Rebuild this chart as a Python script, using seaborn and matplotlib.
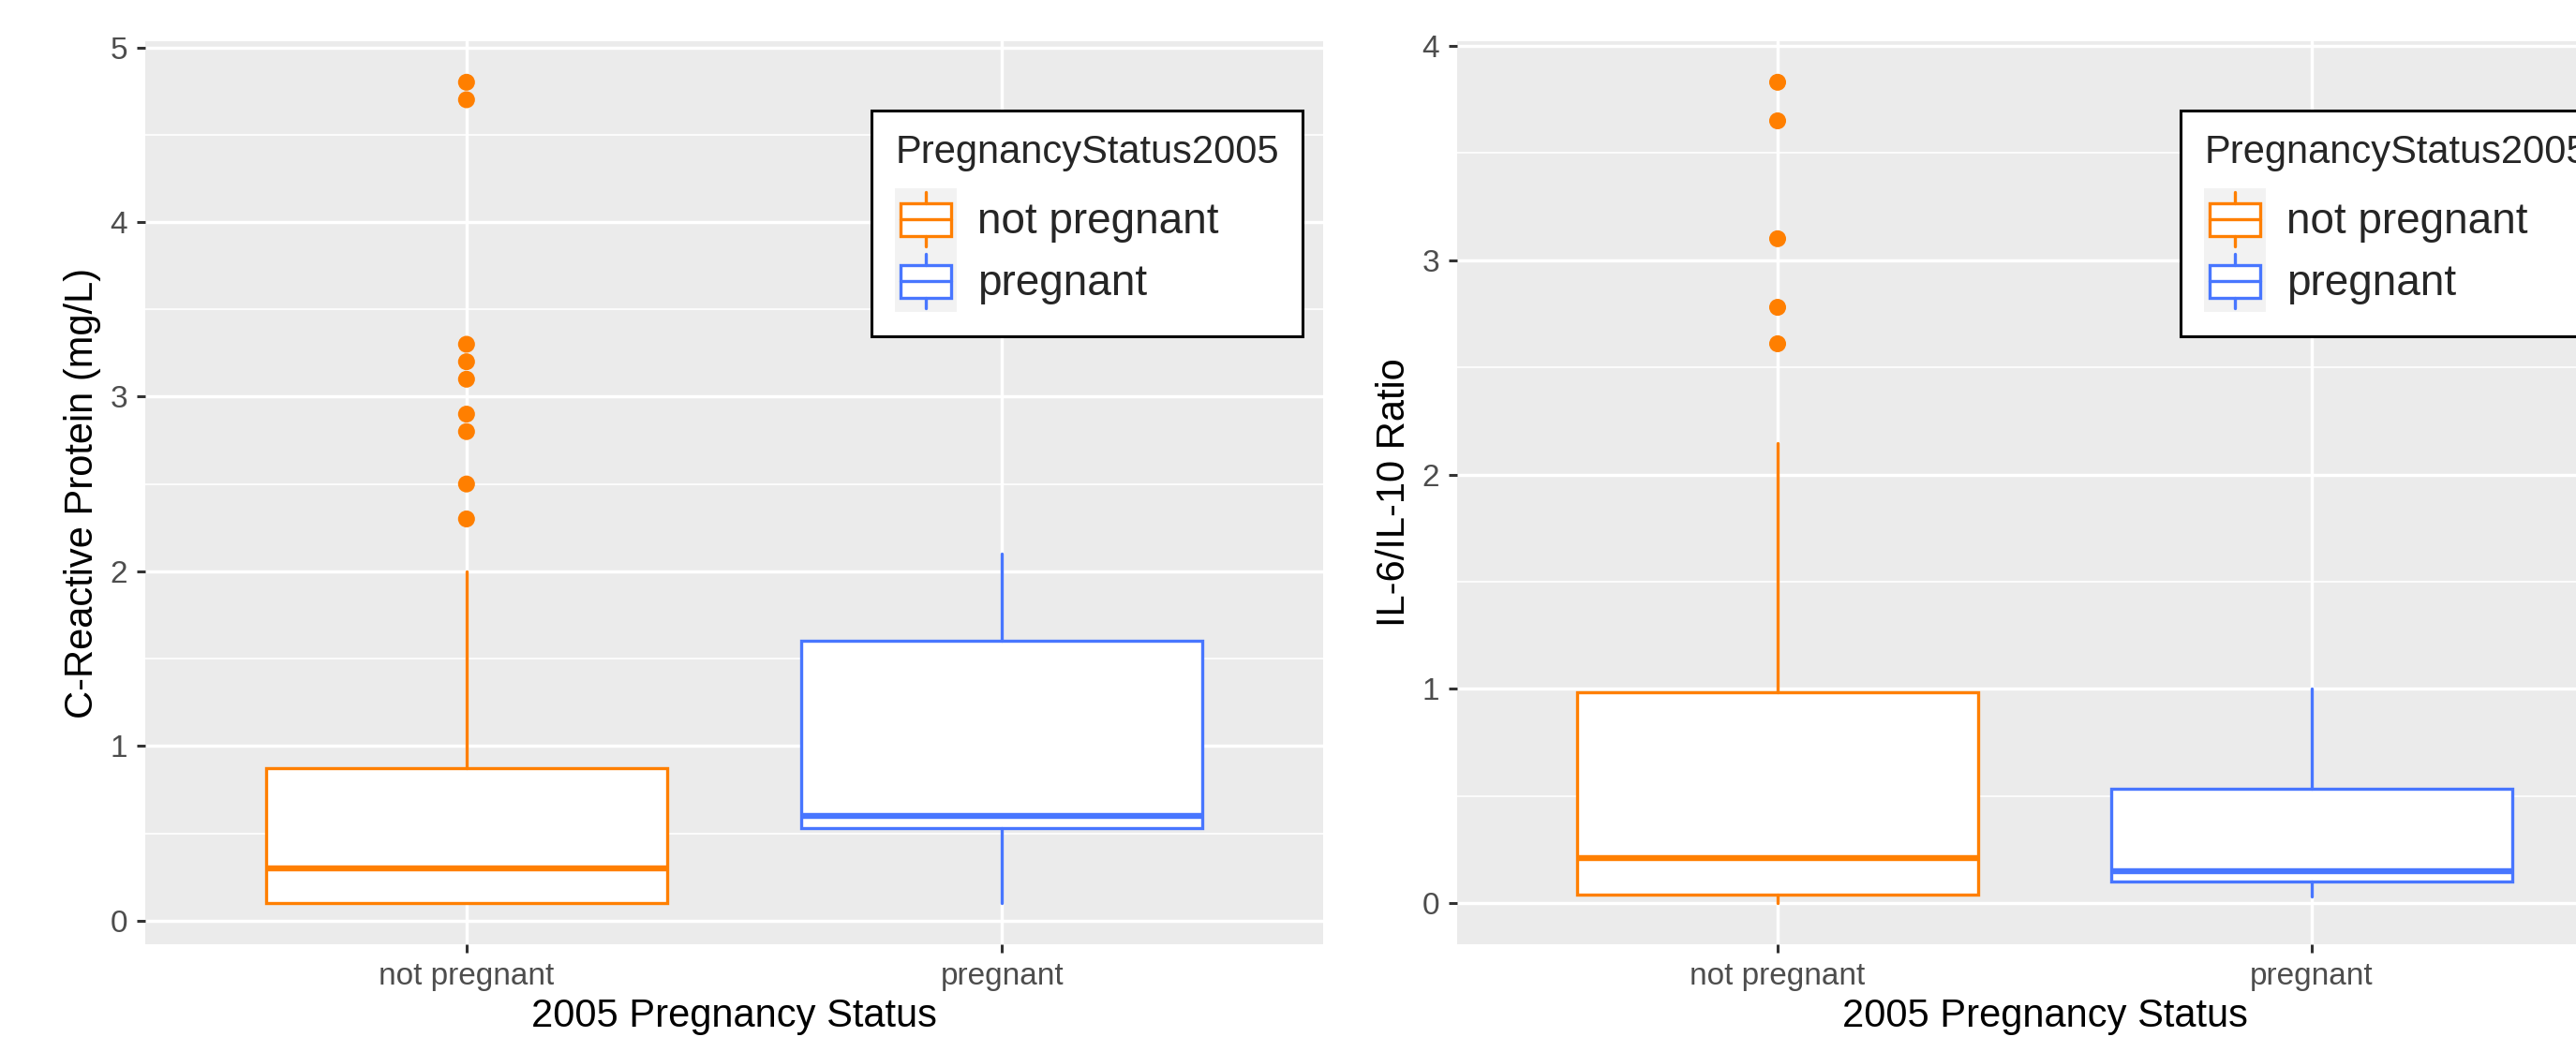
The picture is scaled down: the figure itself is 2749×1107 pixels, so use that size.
import numpy as np
import pandas as pd
import matplotlib
matplotlib.use("Agg")
import matplotlib.pyplot as plt
import seaborn as sns
from matplotlib.patches import Rectangle, Patch
from matplotlib.lines import Line2D
from matplotlib.legend_handler import HandlerBase
from matplotlib.ticker import MultipleLocator

# ---------------- data ----------------
groups = ["not pregnant", "pregnant"]
colors = ["#FF7F00", "#4876FF"]

# C-reactive protein
crp_whislo = [0.1, 0.1]
crp_q1 = [0.1, 0.53]
crp_med = [0.3, 0.6]
crp_q3 = [0.875, 1.6]
crp_whishi = [2.0, 2.1]
crp_outliers = [4.8, 4.7, 3.3, 3.2, 3.1, 2.9, 2.8, 2.5, 2.3]   # not pregnant only

# IL-6 / IL-10 ratio
il_whislo = [0.0, 0.03]
il_q1 = [0.04, 0.103]
il_med = [0.21, 0.15]
il_q3 = [0.985, 0.536]
il_whishi = [2.145, 1.0]
il_outliers = [3.83, 3.65, 3.10, 2.78, 2.61]   # not pregnant only

y_ticks_crp = [0, 1, 2, 3, 4, 5]
y_ticks_il = [0, 1, 2, 3, 4]

sns.set_theme(style="darkgrid", rc={"axes.facecolor": "#EBEBEB", "grid.color": "white"})
plt.rcParams['font.family'] = ['Liberation Sans', 'DejaVu Sans']

LW = 2.4


class BoxKey(HandlerBase):
    # ggplot-like boxplot legend key
    def create_artists(self, legend, orig_handle, xd, yd, w, h, fontsize, trans):
        c = orig_handle.get_edgecolor()
        x0, y0 = -xd, -yd
        arts = [Rectangle((x0, y0), w, h, facecolor="#F2F2F2", edgecolor="none", transform=trans)]
        arts.append(Rectangle((x0 + 0.09 * w, y0 + 0.24 * h), 0.82 * w, 0.52 * h,
                              facecolor="white", edgecolor=c, lw=LW, transform=trans))
        arts.append(Line2D([x0 + 0.09 * w, x0 + 0.91 * w], [y0 + 0.5 * h] * 2, color=c, lw=LW, transform=trans))
        arts.append(Line2D([x0 + 0.5 * w] * 2, [y0 + 0.76 * h, y0 + 0.94 * h], color=c, lw=LW, transform=trans))
        arts.append(Line2D([x0 + 0.5 * w] * 2, [y0 + 0.06 * h, y0 + 0.24 * h], color=c, lw=LW, transform=trans))
        return arts


def draw_panel(ax, whislo, q1, med, q3, whishi, outliers, yticks, ylabel):
    # outliers through seaborn (categorical axis)
    df = pd.DataFrame({"status": ["not pregnant"] * len(outliers), "value": outliers})
    sns.stripplot(data=df, x="status", y="value", hue="status", order=groups, hue_order=groups,
                  palette=colors, jitter=False, size=13, linewidth=0, legend=False, ax=ax, zorder=4)

    for i in range(len(groups)):
        st = [dict(whislo=whislo[i], q1=q1[i], med=med[i], q3=q3[i], whishi=whishi[i], fliers=[])]
        c = colors[i]
        ax.bxp(st, positions=[i], widths=0.75, patch_artist=True, showcaps=False, showfliers=False,
               boxprops=dict(facecolor="white", edgecolor=c, lw=LW),
               medianprops=dict(color=c, lw=4.6, solid_capstyle="butt"),
               whiskerprops=dict(color=c, lw=LW), zorder=3)

    lo = min(whislo)
    hi = max(outliers)
    pad = (hi - lo) * 0.05
    ax.set_ylim(lo - pad, hi + pad)
    ax.set_xlim(-0.6, 1.6)
    ax.set_xticks([0, 1])
    ax.set_xticklabels(groups)
    ax.set_yticks(yticks)
    ax.yaxis.set_minor_locator(MultipleLocator(0.5))
    ax.grid(True, which="major", color="white", lw=2.5)
    ax.grid(True, which="minor", axis="y", color="white", lw=1.2)
    ax.set_axisbelow(True)
    for s in ax.spines.values():
        s.set_visible(False)
    ax.tick_params(which="major", length=6.5, width=2.2, color="#333333", labelsize=24,
                   labelcolor="#4D4D4D", pad=7)
    ax.tick_params(which="minor", length=0)
    ax.tick_params(axis="x", bottom=True)
    ax.tick_params(axis="y", left=True)
    ax.set_xlabel("2005 Pregnancy Status", fontsize=30, color="black", labelpad=5)
    ax.set_ylabel(ylabel, fontsize=30, color="black", labelpad=7)

    handles = [Patch(edgecolor=c, facecolor="white") for c in colors]
    leg = ax.legend(handles, groups, title="PregnancyStatus2005", handler_map={Patch: BoxKey()},
                    loc="upper right", bbox_to_anchor=(0.9825, 0.923), fontsize=33, title_fontsize=30,
                    alignment="left", frameon=True, fancybox=False, framealpha=1, borderpad=0.55,
                    handlelength=1.44, handleheight=1.837, handletextpad=0.48, labelspacing=0,
                    borderaxespad=0)
    leg._legend_box.sep = 13  # gap between title and keys (points)
    leg.get_frame().set_edgecolor("black")
    leg.get_frame().set_linewidth(2.2)
    leg.get_frame().set_facecolor("white")
    leg.set_zorder(10)


W, H = 2749, 1107
fig = plt.figure(figsize=(W / 100, H / 100), dpi=100)
fig.patch.set_facecolor("white")
ax1 = fig.add_axes([155 / W, 1 - 1008 / H, 1257 / W, 964 / H])
ax2 = fig.add_axes([1555 / W, 1 - 1008 / H, 1254 / W, 964 / H])

draw_panel(ax1, crp_whislo, crp_q1, crp_med, crp_q3, crp_whishi, crp_outliers, y_ticks_crp,
           "C-Reactive Protein (mg/L)")
draw_panel(ax2, il_whislo, il_q1, il_med, il_q3, il_whishi, il_outliers, y_ticks_il,
           "IL-6/IL-10 Ratio")

fig.savefig("out.png", dpi=100)
